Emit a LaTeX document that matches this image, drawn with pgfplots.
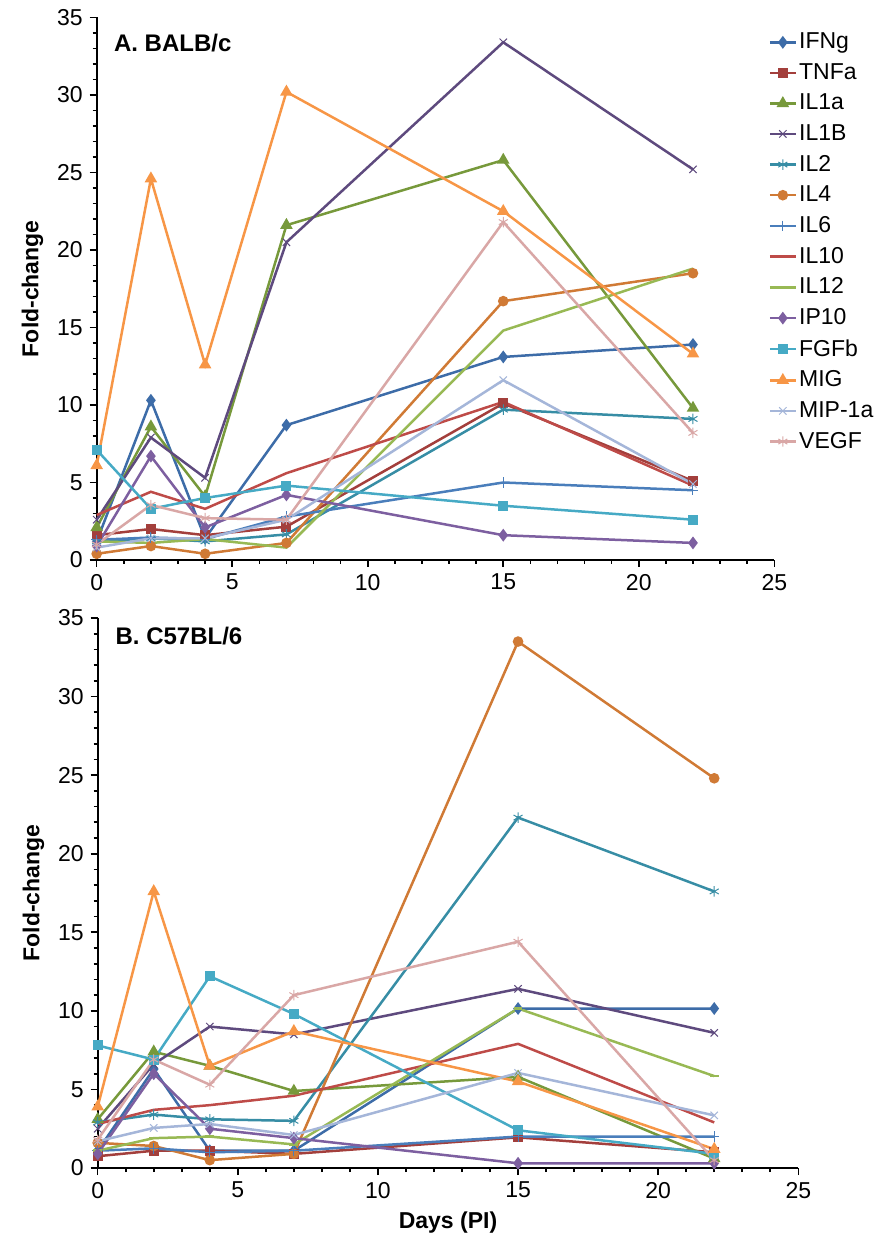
\documentclass[border=0pt]{standalone}
\usepackage{fontspec}
\setmainfont{Liberation Sans}
\usepackage{pgfplots}
\pgfplotsset{compat=1.18}

\definecolor{cIFNg}{HTML}{3D6CA8}
\definecolor{cTNFa}{HTML}{A33F3C}
\definecolor{cIL1a}{HTML}{77993B}
\definecolor{cIL1B}{HTML}{5E4A7E}
\definecolor{cIL2}{HTML}{378DA5}
\definecolor{cIL4}{HTML}{D07A35}
\definecolor{cIL6}{HTML}{4A7EBB}
\definecolor{cIL10}{HTML}{BE4B48}
\definecolor{cIL12}{HTML}{98B954}
\definecolor{cIP10}{HTML}{7D5FA0}
\definecolor{cFGFb}{HTML}{46AAC5}
\definecolor{cMIG}{HTML}{F79646}
\definecolor{cMIP}{HTML}{A5B6D9}
\definecolor{cVEGF}{HTML}{D9A7A6}

\pgfplotsset{
  panel/.style={
    scale only axis,
    axis x line*=bottom, axis y line*=left,
    axis line style={line width=1pt},
    xmin=0, xmax=25, ymin=0, ymax=35,
    xtick={0,5,...,25}, ytick={0,5,...,35},
    minor x tick num=4, minor y tick num=4,
    tick align=outside,
    major tick length=3.5pt, minor tick length=2pt,
    every tick/.style={black, line width=0.8pt},
    tick label style={font=\fontsize{11.5}{13}\selectfont},
    /pgf/number format/assume math mode=true,
    ylabel={\bfseries Fold-change},
    label style={font=\fontsize{11.5}{13}\selectfont},
    clip=false,
    every axis plot/.append style={line width=1.25pt, mark options={solid}},
  },
  s1/.style={color=cIFNg, mark=diamond*, mark size=2.2pt},
  s2/.style={color=cTNFa, mark=square*, mark size=1.9pt},
  s3/.style={color=cIL1a, mark=triangle*, mark size=2.4pt},
  s4/.style={color=cIL1B, mark=x, mark size=2.6pt, mark options={line width=0.5pt}},
  s5/.style={color=cIL2, mark=asterisk, mark size=2.6pt, mark options={line width=0.5pt}},
  s6/.style={color=cIL4, mark=*, mark size=2pt},
  s7/.style={color=cIL6, mark=+, mark size=2.6pt, mark options={line width=0.5pt}},
  s8/.style={color=cIL10, mark=none},
  s9/.style={color=cIL12, mark=none},
  s10/.style={color=cIP10, mark=diamond*, mark size=2.2pt},
  s11/.style={color=cFGFb, mark=square*, mark size=1.9pt},
  s12/.style={color=cMIG, mark=triangle*, mark size=2.4pt},
  s13/.style={color=cMIP, mark=x, mark size=2.6pt, mark options={line width=0.5pt}},
  s14/.style={color=cVEGF, mark=asterisk, mark size=2.6pt, mark options={line width=0.5pt}},
}

\begin{document}
\begin{tikzpicture}
\useasboundingbox (-48.85pt,-36.5pt) rectangle (390.65pt,584pt);

% A. BALB/c
\begin{axis}[panel,
  at={(-0.5pt,304pt)},
  width=338.8pt, height=271.25pt,
  legend style={draw=none, fill=none, font=\fontsize{11.5}{13}\selectfont,
    at={(0.982,0.987)}, anchor=north west, row sep=1.85pt,
    nodes={inner xsep=1pt}},
  legend cell align=left,
  legend image code/.code={
    \draw[mark repeat=2, mark phase=2]
      plot coordinates {(0cm,0cm) (0.23cm,0cm) (0.46cm,0cm)};},
]
\addplot[s1] coordinates {(0,1.2)(2,10.3)(4,1.4)(7,8.7)(15,13.1)(22,13.9)};
\addplot[s2] coordinates {(0,1.6)(2,2.0)(4,1.6)(7,2.15)(15,10.1)(22,5.1)};
\addplot[s3] coordinates {(0,2.1)(2,8.6)(4,4.1)(7,21.6)(15,25.8)(22,9.8)};
\addplot[s4] coordinates {(0,2.6)(2,7.9)(4,5.3)(7,20.5)(15,33.4)(22,25.2)};
\addplot[s5] coordinates {(0,1.2)(2,1.4)(4,1.2)(7,1.65)(15,9.7)(22,9.1)};
\addplot[s6] coordinates {(0,0.4)(2,0.9)(4,0.4)(7,1.1)(15,16.7)(22,18.5)};
\addplot[s7] coordinates {(0,1.3)(2,1.45)(4,1.35)(7,2.8)(15,5.0)(22,4.5)};
\addplot[s8] coordinates {(0,2.9)(2,4.4)(4,3.3)(7,5.6)(15,10.2)(22,4.8)};
\addplot[s9] coordinates {(0,1.2)(2,1.1)(4,1.35)(7,0.8)(15,14.8)(22,18.8)};
\addplot[s10] coordinates {(0,0.9)(2,6.7)(4,2.1)(7,4.2)(15,1.6)(22,1.1)};
\addplot[s11] coordinates {(0,7.1)(2,3.3)(4,4.0)(7,4.8)(15,3.5)(22,2.6)};
\addplot[s12] coordinates {(0,6.1)(2,24.6)(4,12.6)(7,30.2)(15,22.5)(22,13.3)};
\addplot[s13] coordinates {(0,0.8)(2,1.4)(4,1.4)(7,2.6)(15,11.6)(22,4.9)};
\addplot[s14] coordinates {(0,1.0)(2,3.55)(4,2.7)(7,2.6)(15,21.8)(22,8.2)};
\legend{IFNg,TNFa,IL1a,IL1B,IL2,IL4,IL6,IL10,IL12,IP10,FGFb,MIG,MIP-1a,VEGF}
\node[anchor=north west, inner sep=0pt, font=\fontsize{12}{14}\selectfont\bfseries]
  at (rel axis cs:0.025,0.97) {A. BALB/c};
\end{axis}

% B. C57BL/6
\begin{axis}[panel,
  at={(0pt,0pt)},
  width=350.3pt, height=275pt,
  xlabel={\bfseries Days (PI)},
]
\addplot[s1] coordinates {(0,1.1)(2,6.3)(4,1.1)(7,1.1)(15,10.15)(22,10.15)};
\addplot[s2] coordinates {(0,0.75)(2,1.1)(4,1.1)(7,0.9)(15,1.95)(22,1.0)};
\addplot[s3] coordinates {(0,3.1)(2,7.4)(4,6.5)(7,4.9)(15,5.8)(22,0.6)};
\addplot[s4] coordinates {(0,2.5)(2,6.6)(4,9.0)(7,8.5)(15,11.4)(22,8.6)};
\addplot[s5] coordinates {(0,2.9)(2,3.4)(4,3.1)(7,3.0)(15,22.3)(22,17.6)};
\addplot[s6] coordinates {(0,1.6)(2,1.4)(4,0.5)(7,0.9)(15,33.5)(22,24.8)};
\addplot[s7] coordinates {(0,1.1)(2,1.25)(4,1.0)(7,1.1)(15,2.0)(22,2.0)};
\addplot[s8] coordinates {(0,2.8)(2,3.7)(4,4.0)(7,4.6)(15,7.9)(22,2.9)};
\addplot[s9, mark=-, mark size=2.2pt] coordinates {(0,1.1)(2,1.9)(4,2.0)(7,1.5)(15,10.15)(22,5.85)};
\addplot[s10] coordinates {(0,0.9)(2,6.0)(4,2.5)(7,1.9)(15,0.3)(22,0.3)};
\addplot[s11] coordinates {(0,7.8)(2,6.9)(4,12.2)(7,9.8)(15,2.4)(22,0.9)};
\addplot[s12] coordinates {(0,3.9)(2,17.6)(4,6.5)(7,8.7)(15,5.5)(22,1.2)};
\addplot[s13] coordinates {(0,1.7)(2,2.55)(4,2.8)(7,2.1)(15,6.05)(22,3.35)};
\addplot[s14] coordinates {(0,1.8)(2,6.9)(4,5.3)(7,11.0)(15,14.4)(22,0.5)};
\node[anchor=north west, inner sep=0pt, font=\fontsize{12}{14}\selectfont\bfseries]
  at (rel axis cs:0.025,0.985) {B. C57BL/6};
\end{axis}
\end{tikzpicture}
\end{document}
